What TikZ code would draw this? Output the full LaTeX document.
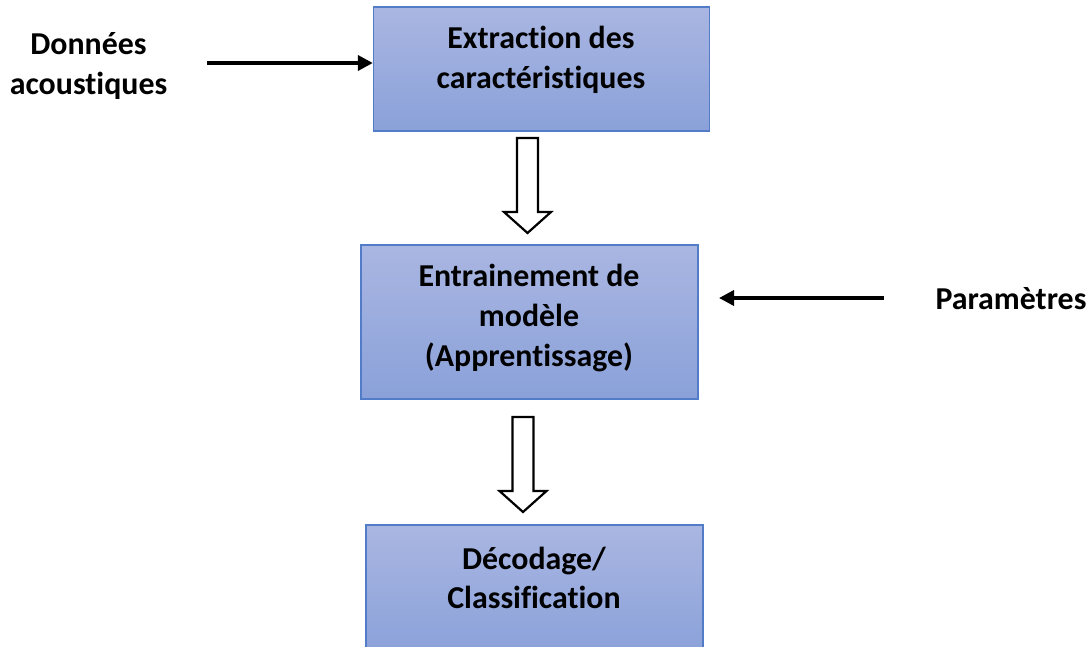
\documentclass[tikz,border=0pt]{standalone}
\usepackage{fontspec}
\setmainfont{Carlito}[Ligatures=NoCommon]
\usetikzlibrary{arrows.meta,calc}
\definecolor{boxtop}{RGB}{170,182,226}
\definecolor{boxbot}{RGB}{138,161,217}
\definecolor{boxline}{RGB}{82,124,200}
\tikzset{
  stage/.style={draw=boxline, line width=1.3bp, top color=boxtop, bottom color=boxbot,
                rectangle, inner sep=0pt},
  lbl/.style={font=\fontsize{32}{40}\selectfont\bfseries, align=center, inner sep=0pt},
  feed/.style={line width=3.5bp, -{Triangle[length=15bp,width=15bp]}},
  hollow/.style={draw=black, fill=white, line width=2.2bp, line join=miter},
}
% hollow block arrow pointing down: centre x, top y, tip y
\newcommand{\downblock}[3]{%
  \path[hollow] (#1-10.5,#2) -- (#1+10.5,#2) -- (#1+10.5,#3-21) -- (#1+23.5,#3-21)
    -- (#1,#3) -- (#1-23.5,#3-21) -- (#1-10.5,#3-21) -- cycle;}
\begin{document}
\begin{tikzpicture}[x=1bp,y=-1bp]
\useasboundingbox (0,0) rectangle (1092,647);

% processing stages
\node[stage, minimum width=336bp, minimum height=124bp] (b1) at (541.5,69) {};
\node[stage, minimum width=337bp, minimum height=154bp] (b2) at (529.5,322) {};
\node[stage, minimum width=337bp, minimum height=130bp] (b3) at (534.5,590) {};

\node[lbl] (t1) at (541,60) {Extraction des\\caractéristiques};
\node[lbl] (t2) at (529,318) {Entrainement de\\modèle\\(Apprentissage)};
\node[lbl] (t3) at (534,578) {Décodage/\\Classification};

% inputs
\node[lbl] (don) at (88.5,66) {Données\\acoustiques};
\node[lbl] (par) at (1011,299) {Paramètres};

\coordinate (a0) at (207,63);
\draw[feed] (a0) -- (a0 -| b1.west);
\coordinate (p0) at (884,298);
\coordinate (p1) at (719,298);
\draw[feed] (p0) -- (p1);

% flow between stages
\downblock{527.5}{138}{233}
\downblock{523}{417}{512}
\end{tikzpicture}
\end{document}
